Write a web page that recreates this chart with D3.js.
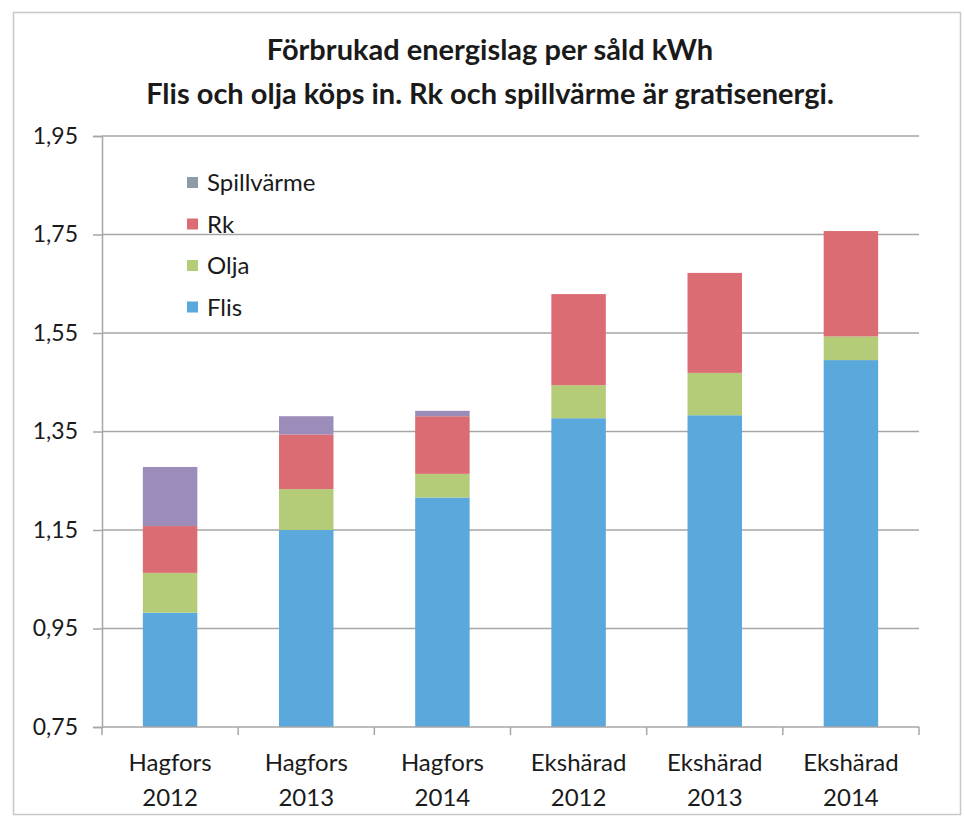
<!DOCTYPE html>
<html>
<head>
<meta charset="utf-8">
<script src="https://cdn.jsdelivr.net/npm/d3@7"></script>
<style>
  body { margin: 0; background: #fff; }
  text { font-family: Lato, "Open Sans", sans-serif; fill: #1a1a1a; }
</style>
</head>
<body>
<div id="chart-area"></div>
<script>
// data
var categories = ["Hagfors 2012", "Hagfors 2013", "Hagfors 2014", "Ekshärad 2012", "Ekshärad 2013", "Ekshärad 2014"];
var seriesNames = ["Flis", "Olja", "Rk", "Spillvärme"];
// segment values (stack starts at the axis minimum 0,75)
var flis       = [0.232, 0.400, 0.466, 0.627, 0.633, 0.745];
var olja       = [0.081, 0.083, 0.048, 0.067, 0.086, 0.048];
var rk         = [0.095, 0.111, 0.117, 0.185, 0.203, 0.214];
var spillvarme = [0.120, 0.037, 0.011, 0, 0, 0];
var yTicks = [0.75, 0.95, 1.15, 1.35, 1.55, 1.75, 1.95];
var titleLines = ["Förbrukad energislag per såld kWh", "Flis och olja köps in. Rk och spillvärme är gratisenergi."];

var colors = ["#5aa8dc", "#b4cc78", "#dc6c73", "#9c8cb9"];
var legendColors = ["#5aa8dc", "#b4cc78", "#dc6c73", "#8c9ba6"];

var W = 965, H = 819;
var margin = { left: 102, right: 46, top: 136, bottom: 92 };
var width = W - margin.left - margin.right,
    height = H - margin.top - margin.bottom;

var svg = d3.select("#chart-area")
  .append("svg")
    .attr("width", W)
    .attr("height", H);

// outer frame
svg.append("rect")
  .attr("x", 13.5).attr("y", 12.5)
  .attr("width", 947).attr("height", 802)
  .attr("fill", "none")
  .attr("stroke", "#c8c8c8")
  .attr("stroke-width", 1.5);

// title
svg.selectAll(".title")
  .data(titleLines)
  .enter().append("text")
    .attr("class", "title")
    .attr("x", 490)
    .attr("y", function(d, i) { return 60 + i * 44; })
    .attr("text-anchor", "middle")
    .attr("font-size", "29px")
    .attr("font-weight", "bold")
    .text(function(d) { return d; });

var g = svg.append("g")
  .attr("transform", "translate(" + margin.left + ", " + margin.top + ")");

var x = d3.scaleBand()
  .domain(categories)
  .range([0, width])
  .paddingInner(0.6)
  .paddingOuter(0.3);

var xb = d3.scaleBand()
  .domain(categories)
  .range([0, width]);

var y = d3.scaleLinear()
  .domain([0.75, 1.95])
  .range([height, 0]);

// gridlines
g.selectAll(".grid")
  .data(yTicks.slice(1))
  .enter().append("line")
    .attr("class", "grid")
    .attr("x1", 0).attr("x2", width)
    .attr("y1", function(d) { return y(d); })
    .attr("y2", function(d) { return y(d); })
    .attr("stroke", "#a6a6a6")
    .attr("stroke-width", 1.5);

// stacked bars
var table = categories.map(function(c, i) {
  return { cat: c, Flis: flis[i], "Olja": olja[i], Rk: rk[i], "Spillvärme": spillvarme[i] };
});
var stack = d3.stack().keys(seriesNames);
var layers = stack(table);

g.selectAll(".layer")
  .data(layers)
  .enter().append("g")
    .attr("class", "layer")
    .attr("fill", function(d, i) { return colors[i]; })
  .selectAll("rect")
  .data(function(d) { return d; })
  .enter().append("rect")
    .attr("x", function(d) { return x(d.data.cat); })
    .attr("width", x.bandwidth())
    .attr("y", function(d) { return y(0.75 + d[1]); })
    .attr("height", function(d) { return y(0.75 + d[0]) - y(0.75 + d[1]); });

// y axis
var yAxis = g.append("g")
  .call(d3.axisLeft(y)
    .tickValues(yTicks)
    .tickSize(9)
    .tickPadding(15)
    .tickFormat(function(d) { return d3.format(".2f")(d).replace(".", ","); }));
yAxis.select(".domain").attr("stroke", "#a6a6a6").attr("stroke-width", 1.5);
yAxis.selectAll(".tick line").attr("stroke", "#a6a6a6").attr("stroke-width", 1.5);
yAxis.selectAll("text")
  .attr("font-size", "23px")
  .attr("font-family", "Lato, sans-serif")
  .attr("fill", "#1a1a1a");

// x axis line with ticks at category boundaries
g.append("line")
  .attr("x1", 0).attr("x2", width)
  .attr("y1", height).attr("y2", height)
  .attr("stroke", "#a6a6a6").attr("stroke-width", 1.5);
g.selectAll(".xtick")
  .data(categories.concat(["end"]))
  .enter().append("line")
    .attr("class", "xtick")
    .attr("x1", function(d, i) { return i * xb.bandwidth(); })
    .attr("x2", function(d, i) { return i * xb.bandwidth(); })
    .attr("y1", height).attr("y2", height + 8)
    .attr("stroke", "#a6a6a6").attr("stroke-width", 1.5);

var xl = g.selectAll(".xlabel")
  .data(categories)
  .enter().append("text")
    .attr("class", "xlabel")
    .attr("text-anchor", "middle")
    .attr("font-size", "24px")
    .attr("transform", function(d) { return "translate(" + (xb(d) + xb.bandwidth() / 2) + "," + (height + 44) + ")"; });
xl.append("tspan").attr("x", 0).attr("dy", 0).text(function(d) { return d.split(" ")[0]; });
xl.append("tspan").attr("x", 0).attr("dy", 35).text(function(d) { return d.split(" ")[1]; });

// legend (top entry first)
var legendOrder = seriesNames.map(function(s, i) { return i; }).reverse();
var legend = svg.selectAll(".legend")
  .data(legendOrder)
  .enter().append("g")
    .attr("class", "legend")
    .attr("transform", function(d, i) { return "translate(187," + (183 + i * 41.5) + ")"; });
legend.append("rect")
  .attr("x", 0).attr("y", -6)
  .attr("width", 11).attr("height", 11)
  .attr("fill", function(d) { return legendColors[d]; });
legend.append("text")
  .attr("x", 20).attr("y", 0)
  .attr("dy", "0.35em")
  .attr("font-size", "24px")
  .text(function(d) { return seriesNames[d]; });
</script>
</body>
</html>
